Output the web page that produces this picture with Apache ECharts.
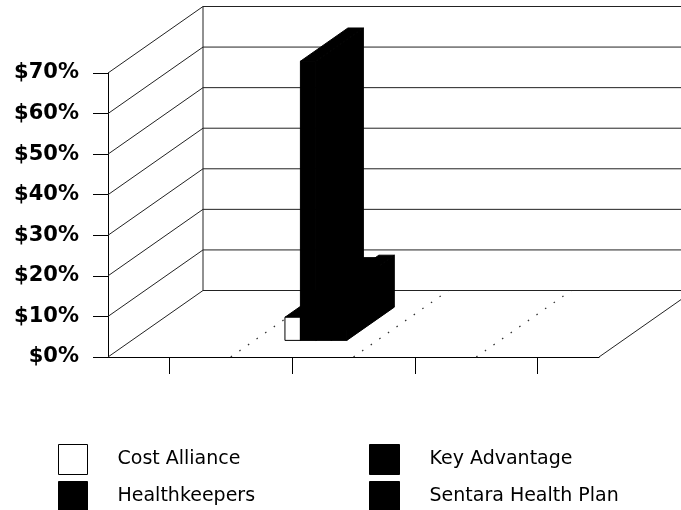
<!DOCTYPE html>
<html>
<head>
<meta charset="utf-8">
<script src="https://cdn.jsdelivr.net/npm/echarts@6/dist/echarts.min.js"></script>
<style>
html,body{margin:0;padding:0;background:#fff;}
#chart{width:681px;height:510px;}
</style>
</head>
<body>
<div id="chart"></div>
<script>
// ---- data ----
const categories = ['Group 1', 'Group 2', 'Group 3', 'Group 4'];
const seriesNames = ['Cost Alliance', 'Healthkeepers', 'Key Advantage', 'Sentara Health Plan'];
const costAlliance = [null, 5.7, null, null];
const healthkeepers = [null, 68.8, null, null];
const keyAdvantage = [null, 12.2, null, null];
const sentaraHealthPlan = [null, 12.8, null, null];
const yTicks = [0, 10, 20, 30, 40, 50, 60, 70];

// ---- 3D look (layout constants) ----
const DX = 95, DY = -66.5;      // depth vector of the floor
const FRONT = 0.25, BACK = 0.75; // bar depth extent
const BAR_FRAC = 0.126;          // bar width as fraction of category width

const chart = echarts.init(document.getElementById('chart'));

function toData(arr) {
  const out = [];
  arr.forEach((v, i) => { if (v !== null && v !== undefined) out.push([i, v]); });
  return out;
}

function barRender(idx, frontFill) {
  return function (params, api) {
    const c = api.value(0), v = api.value(1);
    const base = api.coord([c, 0]);
    const top = api.coord([c, v]);
    const cw = api.size([1, 0])[0];
    const bw = cw * BAR_FRAC;
    const x0 = base[0] - 2 * bw + idx * bw, x1 = x0 + bw;
    const fx = FRONT * DX, fy = FRONT * DY, bx = BACK * DX, by = BACK * DY;
    const y0 = base[1], yv = top[1];
    const stroke = { stroke: '#000', lineWidth: 1 };
    return {
      type: 'group',
      children: [
        { type: 'polygon', shape: { points: [[x1 + fx, y0 + fy], [x1 + bx, y0 + by], [x1 + bx, yv + by], [x1 + fx, yv + fy]] },
          style: Object.assign({ fill: '#000' }, stroke) },
        { type: 'polygon', shape: { points: [[x0 + fx, yv + fy], [x1 + fx, yv + fy], [x1 + bx, yv + by], [x0 + bx, yv + by]] },
          style: Object.assign({ fill: '#000' }, stroke) },
        { type: 'rect', shape: { x: x0 + fx, y: yv + fy, width: bw, height: y0 - yv },
          style: Object.assign({ fill: frontFill }, stroke) }
      ]
    };
  };
}

function frameRender(params, api) {
  const v = api.value(1);
  const cs = params.coordSys;
  const left = cs.x, right = cs.x + cs.width;
  const y = api.coord([0, v])[1];
  const ls = { stroke: '#222', lineWidth: 1 };
  const children = [
    { type: 'line', shape: { x1: left, y1: y, x2: left + DX, y2: y + DY }, style: ls },
    { type: 'line', shape: { x1: left + DX, y1: y + DY, x2: right + DX, y2: y + DY }, style: ls }
  ];
  if (v === yTicks[0]) {
    const yTop = api.coord([0, yTicks[yTicks.length - 1]])[1];
    const cw = api.size([1, 0])[0];
    children.push({ type: 'line', shape: { x1: left + DX, y1: y + DY, x2: left + DX, y2: yTop + DY }, style: ls });
    children.push({ type: 'line', shape: { x1: right, y1: y, x2: right + DX, y2: y + DY }, style: ls });
    for (let k = 1; k < categories.length; k++) {
      const x = left + k * cw;
      children.push({ type: 'line', shape: { x1: x, y1: y, x2: x + DX, y2: y + DY },
        style: { stroke: '#333', lineWidth: 1.3, lineDash: [1.5, 9] } });
    }
  }
  return { type: 'group', children: children };
}

const fronts = ['#fff', '#000', '#000', '#000'];
const values = [costAlliance, healthkeepers, keyAdvantage, sentaraHealthPlan];

const series = [{
  name: 'frame',
  type: 'custom',
  renderItem: frameRender,
  data: yTicks.map(v => [0, v]),
  encode: { x: 0, y: 1 },
  clip: false,
  silent: true,
  z: 1
}];
values.forEach((arr, i) => {
  series.push({
    name: seriesNames[i],
    type: 'custom',
    renderItem: barRender(i, fronts[i]),
    data: toData(arr),
    encode: { x: 0, y: 1 },
    clip: false,
    itemStyle: { color: fronts[i], borderColor: '#000', borderWidth: 1 },
    z: 3
  });
});

const legendText = { fontFamily: 'DejaVu Sans', fontSize: 19, color: '#000', padding: [0, 0, 0, 25] };
function legendItem(name, i) {
  return { name: name, icon: 'rect', itemStyle: { color: fronts[i], borderColor: '#000', borderWidth: 1 } };
}

chart.setOption({
  animation: false,
  backgroundColor: '#fff',
  grid: { left: 108, right: 82, top: 73, bottom: 153 },
  xAxis: {
    type: 'category',
    data: categories,
    axisLine: { show: true, lineStyle: { color: '#000', width: 1 } },
    axisTick: { show: true, alignWithLabel: true, length: 17, lineStyle: { color: '#000' } },
    axisLabel: { show: false },
    splitLine: { show: false }
  },
  yAxis: {
    type: 'value',
    min: 0, max: 70, interval: 10,
    axisLine: { show: true, lineStyle: { color: '#000', width: 1 } },
    axisTick: { show: true, length: 15, lineStyle: { color: '#000' } },
    splitLine: { show: false },
    axisLabel: {
      margin: 29,
      formatter: '${value}%',
      fontFamily: 'DejaVu Sans',
      fontWeight: 'bold',
      fontSize: 21,
      color: '#000'
    }
  },
  legend: [
    {
      orient: 'vertical', left: 58, top: 444, width: 300, height: 100, padding: 0,
      itemWidth: 29, itemHeight: 30, itemGap: 6,
      textStyle: legendText,
      data: [legendItem(seriesNames[0], 0), legendItem(seriesNames[1], 1)]
    },
    {
      orient: 'vertical', left: 369, top: 444, width: 300, height: 100, padding: 0,
      itemWidth: 30, itemHeight: 30, itemGap: 6,
      textStyle: legendText,
      data: [legendItem(seriesNames[2], 2), legendItem(seriesNames[3], 3)]
    }
  ],
  series: series
});
</script>
</body>
</html>
